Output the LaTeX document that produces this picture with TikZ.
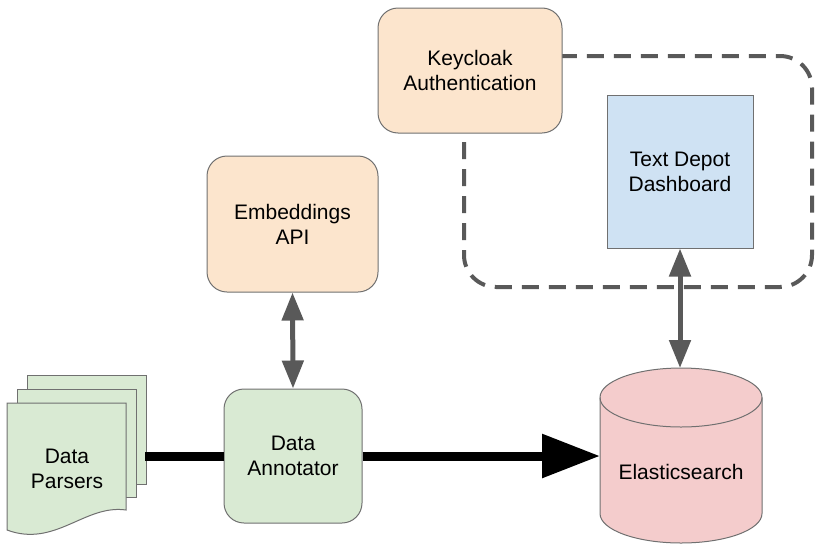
\documentclass[tikz,border=0pt]{standalone}
\usepackage{fontspec}
\setmainfont{Liberation Sans}
\usetikzlibrary{arrows.meta}
\definecolor{peach}{HTML}{FCE5CD}
\definecolor{mint}{HTML}{D9EAD3}
\definecolor{sky}{HTML}{CFE2F3}
\definecolor{rose}{HTML}{F4CCCC}
\definecolor{edge}{HTML}{707070}
\definecolor{dark}{HTML}{595959}
\tikzset{box/.style={draw=edge, line width=1pt, align=center, inner sep=0pt,
    font=\fontsize{21}{25}\selectfont},
roundbox/.style={box, rounded corners=20pt},
duplex/.style={dark, line width=5pt, {Triangle[length=28pt,width=21pt]}-{Triangle[length=28pt,width=21pt]}},
flow/.style={black, line width=9pt}}

\begin{document}
\begin{tikzpicture}[x=1pt,y=-1pt]
\useasboundingbox (0,0) rectangle (821,549);

% dashed group behind keycloak
\draw[dark, line width=4pt, dash pattern=on 17pt off 10pt, rounded corners=32pt]
    (464,56) rectangle (812,287);

\node[roundbox, fill=peach, minimum width=184pt, minimum height=125pt] (keycloak) at (470,70.5) {Keycloak\\Authentication};
\node[roundbox, fill=peach, minimum width=171pt, minimum height=136pt] (embed) at (292.5,224) {Embeddings\\API};
\node[roundbox, fill=mint, minimum width=138pt, minimum height=134pt] (annot) at (293,456) {Data\\Annotator};
\node[box, fill=sky, minimum width=146pt, minimum height=153pt] (dash) at (680,171.5) {Text Depot\\Dashboard};

% stacked documents
\foreach \d in {20,10}
    \filldraw[fill=mint, draw=edge, line width=1pt] (7+\d,403-1.4*\d) rectangle (126+\d,510-1.3*\d);
\filldraw[fill=mint, draw=edge, line width=1pt] (7,403) -- (126,403) -- (126,510)
    .. controls (85,504) and (55,548) .. (7,530) -- cycle;
\node[box, draw=none] (parsers) at (67,469) {Data\\Parsers};
\coordinate (parsers out) at (145,456);

% cylinder
\filldraw[fill=rose, draw=edge, line width=1pt] (600,397.5) -- (600,513.5)
    arc[start angle=180, end angle=0, x radius=81, y radius=29.5] -- (762,397.5)
    arc[start angle=0, end angle=-180, x radius=81, y radius=29.5] -- cycle;
\draw[edge, line width=1pt] (600,397.5) arc[start angle=180, end angle=0, x radius=81, y radius=29.5];
\node[box, draw=none] (elastic) at (681,472) {Elasticsearch};
\coordinate (elastic top) at (680,368);
\coordinate (elastic in) at (600,456);

\draw[flow] (parsers out) -- (annot.west);
\draw[flow, -{Triangle[length=58pt,width=42pt]}] (annot.east) -- (elastic in);
\draw[duplex] (embed.south) -- (annot.north);
\draw[duplex] (dash.south) -- (elastic top);

\end{tikzpicture}
\end{document}
